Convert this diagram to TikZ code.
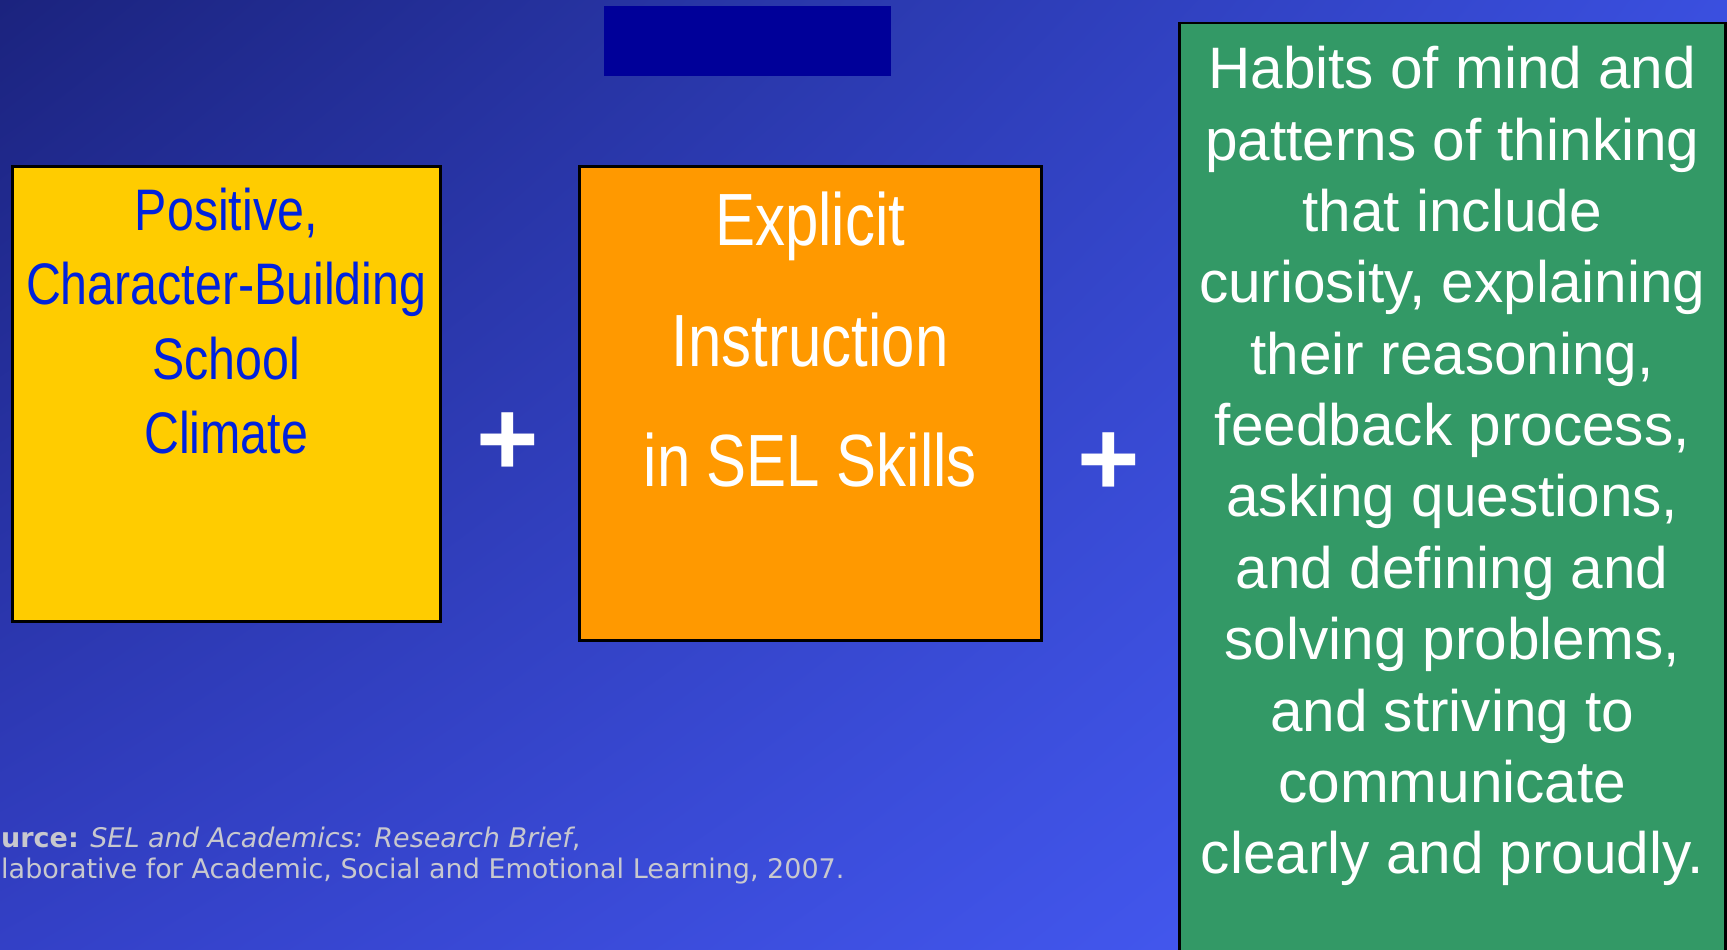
\documentclass[tikz,border=0pt]{standalone}
\usepackage{fontspec}
\setmainfont{Liberation Sans}
\newfontfamily\narrowfont[FakeStretch=0.81]{Liberation Sans}
\newfontfamily\climatefont[FakeStretch=0.825]{Liberation Sans}
\newfontfamily\notefont{DejaVu Sans}
\usetikzlibrary{positioning,shadings}

\definecolor{bgtl}{RGB}{27,35,126}
\definecolor{bgtr}{RGB}{58,79,223}
\definecolor{bgbl}{RGB}{51,64,198}
\definecolor{bgbr}{RGB}{73,97,255}
\definecolor{titleblue}{RGB}{0,0,153}
\definecolor{climateyellow}{RGB}{255,204,0}
\definecolor{skillsorange}{RGB}{255,153,0}
\definecolor{habitsgreen}{RGB}{51,153,102}
\definecolor{selblue}{RGB}{0,34,221}
\definecolor{notegray}{RGB}{200,200,206}

\tikzset{
  box/.style={draw=black, line width=2.5pt, inner sep=0pt, anchor=north west},
  boxtext/.style={align=center, inner sep=0pt},
  plus/.style={text=white, inner sep=0pt, font=\bfseries\fontsize{107}{107}\selectfont}
}

\begin{document}
\begin{tikzpicture}[x=1pt,y=-1pt]
  \shade[upper left=bgtl, upper right=bgtr, lower left=bgbl, lower right=bgbr]
    (0,0) rectangle (1727,950);
  \useasboundingbox (0,0) rectangle (1727,950);

  % empty title bar
  \node[fill=titleblue, inner sep=0pt, anchor=north west,
    minimum width=287pt, minimum height=70pt] (title) at (604,6) {};

  % the three boxes
  \node[box, fill=climateyellow, minimum width=428pt, minimum height=455pt] (climate) at (11,165) {};
  \node[box, fill=skillsorange, minimum width=462pt, minimum height=474pt] (skills) at (578,165) {};
  \node[box, fill=habitsgreen, minimum width=546pt, minimum height=960pt] (habits) at (1178,22) {};

  \node[boxtext, below=23pt of climate.north, text=selblue,
    font=\climatefont\fontsize{58.6}{74.3}\selectfont] (climatetext)
    {Positive,\\Character-Building\\School\\Climate};
  \node[boxtext, below=27pt of skills.north, text=white,
    font=\narrowfont\fontsize{74}{120.5}\selectfont] (skillstext)
    {Explicit\\Instruction\\in SEL Skills};
  \node[boxtext, below=24pt of habits.north, text=white,
    font=\fontsize{58.5}{71.4}\selectfont] (habitstext)
    {Habits of mind and\\patterns of thinking\\that include\\curiosity, explaining\\their reasoning,\\feedback process,\\asking questions,\\and defining and\\solving problems,\\and striving to\\communicate\\clearly and proudly.};

  \node[plus] (plusa) at (508,444) {+};
  \node[plus] (plusb) at (1109,464) {+};

  % source
  \node[anchor=north west, align=left, inner sep=0pt, text=notegray,
    font=\notefont\fontsize{27}{31}\selectfont] (source) at (1,827)
    {\textbf{urce:} \textit{SEL and Academics: Research Brief},\\laborative for Academic, Social and Emotional Learning, 2007.};
\end{tikzpicture}
\end{document}
